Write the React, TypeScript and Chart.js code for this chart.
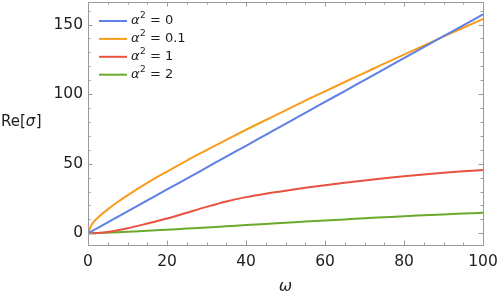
import React, { useEffect, useRef } from "react";
import { Chart, registerables } from "chart.js";

Chart.register(...registerables);

const omega = [0, 1, 2.5, 5, 7.5, 10, 15, 20, 25, 30, 35, 40, 45, 50, 55, 60, 65, 70, 75, 80, 85, 90, 95, 100];
const alpha0 = [0, 1.57, 3.93, 7.87, 11.8, 15.7, 23.6, 31.5, 39.3, 47.2, 55.1, 62.9, 70.8, 78.7, 86.5, 94.4, 102.2, 110.1, 118.0, 125.9, 133.7, 141.6, 149.4, 157.3];
const alpha01 = [0, 6.5, 11.2, 17.2, 22.5, 27.3, 36.2, 44.4, 52.3, 59.8, 67.2, 74.4, 81.4, 88.4, 95.3, 102.0, 108.7, 115.3, 121.9, 128.4, 134.9, 141.3, 147.7, 154.0];
const alpha1 = [0, 0.05, 0.3, 1.0, 2.2, 3.6, 7.0, 10.6, 14.8, 19.0, 22.9, 26.0, 28.5, 30.6, 32.7, 34.6, 36.4, 38.0, 39.6, 41.0, 42.3, 43.5, 44.6, 45.5];
const alpha2 = [0, 0.05, 0.15, 0.45, 0.75, 1.1, 1.8, 2.6, 3.4, 4.2, 5.05, 5.9, 6.75, 7.6, 8.4, 9.2, 10.0, 10.8, 11.55, 12.3, 12.95, 13.6, 14.2, 14.8];

const seriesValues = ["0", "0.1", "1", "2"];
const seriesColors = ["#5d80e4", "#f89c1c", "#e8523f", "#6aa92c"];
const seriesData = [alpha0, alpha01, alpha1, alpha2];

const xTickValues = [0, 20, 40, 60, 80, 100];
const yTickValues = [0, 50, 100, 150];
const xMinorStep = 5;
const yMinorStep = 10;
const xRange = [0, 100];
const yRange = [-8.4, 166.2];

const FONT = "DejaVu Sans";
const FRAME = "#9a9a9a";
const TEXT = "#1e1e1e";

const framePlugin = {
  id: "framePlugin",
  afterDraw(chart: any) {
    const ctx = chart.ctx;
    const a = chart.chartArea;
    const xs = chart.scales.x;
    const ys = chart.scales.y;
    ctx.save();
    ctx.strokeStyle = FRAME;
    ctx.lineWidth = 1;
    ctx.strokeRect(Math.round(a.left) + 0.5, Math.round(a.top) + 0.5, Math.round(a.right - a.left), Math.round(a.bottom - a.top));
    ctx.beginPath();
    for (let v = xRange[0]; v <= xRange[1] + 1e-9; v += xMinorStep) {
      const major = xTickValues.includes(v);
      const len = major ? 4.5 : 2.5;
      const px = Math.round(xs.getPixelForValue(v)) + 0.5;
      ctx.moveTo(px, a.bottom);
      ctx.lineTo(px, a.bottom - len);
      ctx.moveTo(px, a.top);
      ctx.lineTo(px, a.top + len);
    }
    const yStart = Math.ceil(yRange[0] / yMinorStep) * yMinorStep;
    for (let v = yStart; v <= yRange[1]; v += yMinorStep) {
      const major = yTickValues.includes(v);
      const len = major ? 4.5 : 2.5;
      const py = Math.round(ys.getPixelForValue(v)) + 0.5;
      ctx.moveTo(a.left, py);
      ctx.lineTo(a.left + len, py);
      ctx.moveTo(a.right, py);
      ctx.lineTo(a.right - len, py);
    }
    ctx.stroke();

    // axis titles
    ctx.fillStyle = TEXT;
    ctx.textBaseline = "middle";
    ctx.textAlign = "center";
    ctx.font = `italic 16px ${FONT}`;
    ctx.fillText("ω", (a.left + a.right) / 2, 287);

    ctx.textAlign = "left";
    const yMid = (a.top + a.bottom) / 2 - 1;
    let x = 1;
    ctx.font = `15px ${FONT}`;
    ctx.fillText("Re[", x, yMid);
    x += ctx.measureText("Re[").width;
    ctx.font = `italic 15px ${FONT}`;
    ctx.fillText("σ", x, yMid);
    x += ctx.measureText("σ").width + 0.5;
    ctx.font = `15px ${FONT}`;
    ctx.fillText("]", x, yMid);

    // legend
    chart.data.datasets.forEach((ds: any, i: number) => {
      const rowY = a.top + 19 + i * 17.9;
      ctx.strokeStyle = ds.borderColor;
      ctx.lineWidth = 2;
      ctx.beginPath();
      ctx.moveTo(a.left + 11, rowY);
      ctx.lineTo(a.left + 39, rowY);
      ctx.stroke();
      let tx = a.left + 43;
      ctx.fillStyle = TEXT;
      ctx.font = `italic 13px ${FONT}`;
      ctx.fillText("α", tx, rowY);
      tx += ctx.measureText("α").width + 0.5;
      ctx.font = `9px ${FONT}`;
      ctx.fillText("2", tx, rowY - 5);
      tx += ctx.measureText("2").width;
      ctx.font = `13px ${FONT}`;
      ctx.fillText(" = " + seriesValues[i], tx, rowY);
    });
    ctx.restore();
  },
};

const zeroPad = (s: any) => {
  s.paddingTop = 0;
  s.paddingBottom = 0;
  s.paddingLeft = 0;
  s.paddingRight = 0;
};

export default function App() {
  const ref = useRef<HTMLCanvasElement | null>(null);
  useEffect(() => {
    document.body.style.margin = "0";
    const canvas = ref.current!;
    const chart = new Chart(canvas, {
      type: "line",
      data: {
        datasets: seriesData.map((vals, i) => ({
          label: "α² = " + seriesValues[i],
          data: omega.map((w, j) => ({ x: w, y: vals[j] })),
          borderColor: seriesColors[i],
          backgroundColor: seriesColors[i],
          borderWidth: 2,
          pointRadius: 0,
          cubicInterpolationMode: "monotone" as const,
          fill: false,
        })),
      },
      options: {
        animation: false,
        responsive: false,
        maintainAspectRatio: false,
        layout: { padding: { top: 2, right: 15, left: 0, bottom: 0 } },
        plugins: { legend: { display: false }, tooltip: { enabled: false } },
        scales: {
          x: {
            type: "linear",
            min: xRange[0],
            max: xRange[1],
            grid: { display: false, drawTicks: false },
            border: { display: false },
            afterBuildTicks: (s: any) => {
              s.ticks = xTickValues.map((v) => ({ value: v }));
            },
            afterFit: (s: any) => {
              s.height = 51;
              zeroPad(s);
            },
            ticks: {
              padding: 8,
              color: TEXT,
              font: { family: FONT, size: 15.5 },
              maxRotation: 0,
              autoSkip: false,
            },
          },
          y: {
            type: "linear",
            min: yRange[0],
            max: yRange[1],
            grid: { display: false, drawTicks: false },
            border: { display: false },
            afterBuildTicks: (s: any) => {
              s.ticks = yTickValues.map((v) => ({ value: v }));
            },
            afterFit: (s: any) => {
              s.width = 88;
              zeroPad(s);
            },
            ticks: {
              padding: 5,
              color: TEXT,
              font: { family: FONT, size: 15.5 },
              autoSkip: false,
            },
          },
        },
      },
      plugins: [framePlugin],
    });
    return () => chart.destroy();
  }, []);
  return <canvas ref={ref} width={498} height={296} style={{ display: "block" }} />;
}
